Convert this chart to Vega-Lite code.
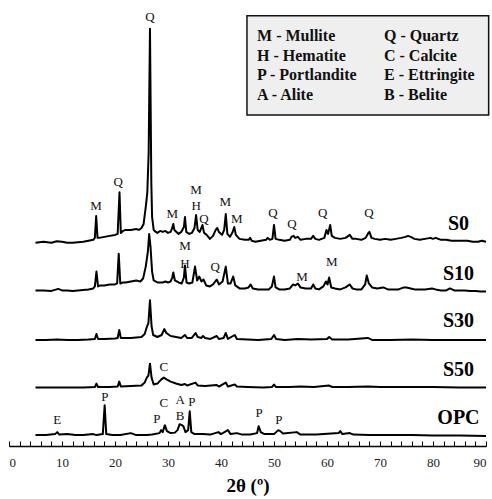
{
  "$schema": "https://vega.github.io/schema/vega-lite/v6.json",
  "width": 477,
  "height": 446,
  "autosize": {"type": "none"},
  "padding": {"left": 9, "top": 0, "right": 6, "bottom": 53},
  "background": "white",
  "config": {
    "view": {"stroke": null},
    "font": "Liberation Serif",
    "axis": {"labelFont": "Liberation Serif", "titleFont": "Liberation Serif", "labelFontSize": 13, "titleFontSize": 19, "titleFontWeight": "bold", "labelColor": "#222", "titleColor": "#000"}
  },
  "resolve": {"axis": {"x": "independent", "y": "independent"}},
  "layer": [
    {
      "data": {"values": [
      {"s":"S0","t":5.0,"i":205},{"s":"S0","t":6.5,"i":206},{"s":"S0","t":8,"i":205},{"s":"S0","t":9,"i":206.5},{"s":"S0","t":10,"i":206},{"s":"S0","t":11,"i":205},{"s":"S0","t":12,"i":205},{"s":"S0","t":13,"i":205.5},{"s":"S0","t":14,"i":206},{"s":"S0","t":15,"i":207},{"s":"S0","t":15.9,"i":208},{"s":"S0","t":16.2,"i":210},{"s":"S0","t":16.45,"i":232},{"s":"S0","t":16.7,"i":210},{"s":"S0","t":17,"i":210},{"s":"S0","t":18,"i":211},{"s":"S0","t":19,"i":212},{"s":"S0","t":20,"i":213},{"s":"S0","t":20.5,"i":214},{"s":"S0","t":20.85,"i":256},{"s":"S0","t":21.1,"i":215},{"s":"S0","t":21.5,"i":217},{"s":"S0","t":22,"i":218},{"s":"S0","t":23,"i":218},{"s":"S0","t":24,"i":219},{"s":"S0","t":24.5,"i":218},{"s":"S0","t":25,"i":220},{"s":"S0","t":25.4,"i":224},{"s":"S0","t":25.8,"i":241},{"s":"S0","t":26.1,"i":256},{"s":"S0","t":26.35,"i":296},{"s":"S0","t":26.6,"i":421},{"s":"S0","t":26.85,"i":266},{"s":"S0","t":27.0,"i":231},{"s":"S0","t":27.3,"i":218},{"s":"S0","t":27.7,"i":216},{"s":"S0","t":28,"i":215},{"s":"S0","t":28.5,"i":217},{"s":"S0","t":29,"i":216},{"s":"S0","t":29.5,"i":217},{"s":"S0","t":30,"i":215},{"s":"S0","t":30.5,"i":216},{"s":"S0","t":30.8,"i":220},{"s":"S0","t":31.0,"i":224},{"s":"S0","t":31.2,"i":218},{"s":"S0","t":31.6,"i":216},{"s":"S0","t":32,"i":214},{"s":"S0","t":32.5,"i":216},{"s":"S0","t":33.0,"i":221},{"s":"S0","t":33.2,"i":231},{"s":"S0","t":33.45,"i":216},{"s":"S0","t":34,"i":214},{"s":"S0","t":34.5,"i":215},{"s":"S0","t":35.0,"i":220},{"s":"S0","t":35.3,"i":233},{"s":"S0","t":35.6,"i":218},{"s":"S0","t":36,"i":216},{"s":"S0","t":36.5,"i":223},{"s":"S0","t":36.8,"i":215},{"s":"S0","t":37.3,"i":213},{"s":"S0","t":37.9,"i":209},{"s":"S0","t":38.5,"i":212},{"s":"S0","t":39.0,"i":218},{"s":"S0","t":39.3,"i":220},{"s":"S0","t":39.6,"i":216},{"s":"S0","t":40.2,"i":213},{"s":"S0","t":40.6,"i":218},{"s":"S0","t":40.9,"i":234},{"s":"S0","t":41.2,"i":214},{"s":"S0","t":41.7,"i":211},{"s":"S0","t":42.2,"i":216},{"s":"S0","t":42.5,"i":221},{"s":"S0","t":42.8,"i":213},{"s":"S0","t":43.5,"i":209},{"s":"S0","t":44.5,"i":208},{"s":"S0","t":45.2,"i":208},{"s":"S0","t":45.5,"i":210},{"s":"S0","t":45.8,"i":207},{"s":"S0","t":46.5,"i":206},{"s":"S0","t":47.5,"i":207},{"s":"S0","t":48.5,"i":208},{"s":"S0","t":48.8,"i":210},{"s":"S0","t":49.2,"i":208},{"s":"S0","t":49.7,"i":209},{"s":"S0","t":50.0,"i":223},{"s":"S0","t":50.3,"i":209},{"s":"S0","t":51,"i":208},{"s":"S0","t":52,"i":207},{"s":"S0","t":53,"i":208},{"s":"S0","t":53.3,"i":211},{"s":"S0","t":53.7,"i":212},{"s":"S0","t":54.0,"i":210},{"s":"S0","t":54.5,"i":211},{"s":"S0","t":55,"i":208},{"s":"S0","t":56,"i":209},{"s":"S0","t":57,"i":209},{"s":"S0","t":57.4,"i":212},{"s":"S0","t":57.8,"i":209},{"s":"S0","t":58.5,"i":208},{"s":"S0","t":59.5,"i":210},{"s":"S0","t":59.9,"i":218},{"s":"S0","t":60.2,"i":214},{"s":"S0","t":60.6,"i":223},{"s":"S0","t":60.9,"i":212},{"s":"S0","t":61.5,"i":210},{"s":"S0","t":62.5,"i":209},{"s":"S0","t":63.5,"i":210},{"s":"S0","t":64.3,"i":213},{"s":"S0","t":64.8,"i":209},{"s":"S0","t":65.5,"i":209},{"s":"S0","t":66.5,"i":208},{"s":"S0","t":67.3,"i":210},{"s":"S0","t":67.8,"i":215},{"s":"S0","t":68.0,"i":216},{"s":"S0","t":68.4,"i":210},{"s":"S0","t":69,"i":209},{"s":"S0","t":70,"i":208},{"s":"S0","t":71,"i":209},{"s":"S0","t":72,"i":208},{"s":"S0","t":73,"i":209},{"s":"S0","t":74,"i":210},{"s":"S0","t":74.8,"i":211},{"s":"S0","t":75.3,"i":212},{"s":"S0","t":75.8,"i":211},{"s":"S0","t":76.5,"i":209},{"s":"S0","t":77.5,"i":208},{"s":"S0","t":78.5,"i":209},{"s":"S0","t":79.5,"i":210},{"s":"S0","t":80,"i":209},{"s":"S0","t":80.5,"i":210},{"s":"S0","t":81.5,"i":208},{"s":"S0","t":82.5,"i":208},{"s":"S0","t":83.5,"i":207},{"s":"S0","t":84.5,"i":207},{"s":"S0","t":85.5,"i":207},{"s":"S0","t":86.5,"i":207},{"s":"S0","t":87.5,"i":206},{"s":"S0","t":88.5,"i":206},{"s":"S0","t":89.2,"i":207},{"s":"S0","t":90,"i":206},
      {"s":"S10","t":5,"i":157},{"s":"S10","t":6.5,"i":157},{"s":"S10","t":8,"i":156.5},{"s":"S10","t":9.3,"i":158.5},{"s":"S10","t":10,"i":157},{"s":"S10","t":11,"i":157},{"s":"S10","t":12,"i":156.5},{"s":"S10","t":13,"i":157},{"s":"S10","t":14,"i":157.5},{"s":"S10","t":15,"i":158},{"s":"S10","t":15.9,"i":159},{"s":"S10","t":16.2,"i":161},{"s":"S10","t":16.5,"i":176},{"s":"S10","t":16.8,"i":161},{"s":"S10","t":17.2,"i":162},{"s":"S10","t":18,"i":162},{"s":"S10","t":19,"i":163},{"s":"S10","t":20,"i":163},{"s":"S10","t":20.4,"i":164},{"s":"S10","t":20.7,"i":194},{"s":"S10","t":21.0,"i":164},{"s":"S10","t":21.5,"i":165},{"s":"S10","t":22,"i":165},{"s":"S10","t":23,"i":166},{"s":"S10","t":24,"i":167},{"s":"S10","t":24.8,"i":166},{"s":"S10","t":25.3,"i":169},{"s":"S10","t":25.8,"i":181},{"s":"S10","t":26.2,"i":196},{"s":"S10","t":26.45,"i":214},{"s":"S10","t":26.7,"i":201},{"s":"S10","t":27.0,"i":176},{"s":"S10","t":27.3,"i":167},{"s":"S10","t":28,"i":165},{"s":"S10","t":29,"i":165},{"s":"S10","t":29.5,"i":166},{"s":"S10","t":30,"i":165},{"s":"S10","t":30.5,"i":166},{"s":"S10","t":30.8,"i":170},{"s":"S10","t":31.0,"i":175},{"s":"S10","t":31.3,"i":167},{"s":"S10","t":32,"i":165},{"s":"S10","t":32.6,"i":164},{"s":"S10","t":33.0,"i":170},{"s":"S10","t":33.2,"i":182},{"s":"S10","t":33.5,"i":165},{"s":"S10","t":34,"i":164},{"s":"S10","t":34.6,"i":165},{"s":"S10","t":35.1,"i":181},{"s":"S10","t":35.5,"i":167},{"s":"S10","t":35.9,"i":171},{"s":"S10","t":36.3,"i":166},{"s":"S10","t":36.7,"i":168},{"s":"S10","t":37.2,"i":162},{"s":"S10","t":37.9,"i":161},{"s":"S10","t":38.5,"i":163},{"s":"S10","t":39.2,"i":168},{"s":"S10","t":39.6,"i":163},{"s":"S10","t":40.3,"i":166},{"s":"S10","t":40.9,"i":181},{"s":"S10","t":41.3,"i":164},{"s":"S10","t":41.8,"i":164},{"s":"S10","t":42.3,"i":171},{"s":"S10","t":42.7,"i":162},{"s":"S10","t":43.5,"i":159},{"s":"S10","t":44.5,"i":159},{"s":"S10","t":45.2,"i":160},{"s":"S10","t":45.6,"i":163},{"s":"S10","t":46,"i":159},{"s":"S10","t":47,"i":158},{"s":"S10","t":48,"i":158},{"s":"S10","t":49,"i":158},{"s":"S10","t":49.6,"i":161},{"s":"S10","t":50.0,"i":171},{"s":"S10","t":50.3,"i":160},{"s":"S10","t":51,"i":158},{"s":"S10","t":52,"i":158},{"s":"S10","t":53,"i":159},{"s":"S10","t":53.6,"i":163},{"s":"S10","t":54.0,"i":162},{"s":"S10","t":54.5,"i":164},{"s":"S10","t":55,"i":160},{"s":"S10","t":56,"i":159},{"s":"S10","t":57,"i":159},{"s":"S10","t":57.4,"i":163},{"s":"S10","t":57.8,"i":159},{"s":"S10","t":58.5,"i":158},{"s":"S10","t":59.3,"i":161},{"s":"S10","t":59.8,"i":166},{"s":"S10","t":60.1,"i":163},{"s":"S10","t":60.4,"i":170},{"s":"S10","t":60.8,"i":160},{"s":"S10","t":61.5,"i":159},{"s":"S10","t":62.5,"i":158},{"s":"S10","t":63.5,"i":160},{"s":"S10","t":64.3,"i":163},{"s":"S10","t":64.8,"i":159},{"s":"S10","t":65.5,"i":158},{"s":"S10","t":66.5,"i":158},{"s":"S10","t":67.2,"i":163},{"s":"S10","t":67.5,"i":172},{"s":"S10","t":67.9,"i":164},{"s":"S10","t":68.5,"i":160},{"s":"S10","t":69.5,"i":159},{"s":"S10","t":70.6,"i":160},{"s":"S10","t":71.5,"i":158},{"s":"S10","t":72.5,"i":158},{"s":"S10","t":73.5,"i":158},{"s":"S10","t":74.5,"i":160},{"s":"S10","t":75,"i":160},{"s":"S10","t":75.8,"i":159},{"s":"S10","t":76.5,"i":158},{"s":"S10","t":77.5,"i":158},{"s":"S10","t":78.5,"i":158},{"s":"S10","t":79.8,"i":159},{"s":"S10","t":80.5,"i":158},{"s":"S10","t":81.5,"i":157},{"s":"S10","t":82.5,"i":157},{"s":"S10","t":83.2,"i":159},{"s":"S10","t":84,"i":157},{"s":"S10","t":85,"i":157},{"s":"S10","t":86,"i":157},{"s":"S10","t":87,"i":156.5},{"s":"S10","t":88,"i":156.5},{"s":"S10","t":89,"i":156},{"s":"S10","t":90,"i":156},
      {"s":"S30","t":5,"i":107},{"s":"S30","t":7,"i":107},{"s":"S30","t":9,"i":107.5},{"s":"S30","t":11,"i":107},{"s":"S30","t":13,"i":107},{"s":"S30","t":15,"i":107.5},{"s":"S30","t":16.2,"i":108},{"s":"S30","t":16.5,"i":113},{"s":"S30","t":16.8,"i":108},{"s":"S30","t":18,"i":108},{"s":"S30","t":20,"i":108.5},{"s":"S30","t":20.5,"i":109},{"s":"S30","t":20.8,"i":117},{"s":"S30","t":21.1,"i":109},{"s":"S30","t":22,"i":109},{"s":"S30","t":23,"i":109},{"s":"S30","t":24,"i":109.5},{"s":"S30","t":25,"i":110},{"s":"S30","t":25.6,"i":113},{"s":"S30","t":26.0,"i":120},{"s":"S30","t":26.3,"i":124},{"s":"S30","t":26.6,"i":147},{"s":"S30","t":26.9,"i":121},{"s":"S30","t":27.2,"i":112},{"s":"S30","t":28,"i":110},{"s":"S30","t":28.8,"i":112},{"s":"S30","t":29.3,"i":118},{"s":"S30","t":29.7,"i":114},{"s":"S30","t":30.5,"i":111},{"s":"S30","t":31.5,"i":110},{"s":"S30","t":32.5,"i":109},{"s":"S30","t":33.2,"i":112},{"s":"S30","t":33.6,"i":109},{"s":"S30","t":34.5,"i":109},{"s":"S30","t":35.2,"i":114},{"s":"S30","t":35.6,"i":110},{"s":"S30","t":36.3,"i":109},{"s":"S30","t":36.6,"i":111},{"s":"S30","t":37,"i":109},{"s":"S30","t":38,"i":108},{"s":"S30","t":39.2,"i":111},{"s":"S30","t":39.6,"i":108},{"s":"S30","t":40.5,"i":109},{"s":"S30","t":40.9,"i":114},{"s":"S30","t":41.3,"i":108},{"s":"S30","t":42.6,"i":112},{"s":"S30","t":43,"i":108},{"s":"S30","t":45,"i":107.5},{"s":"S30","t":47,"i":107},{"s":"S30","t":49.5,"i":108},{"s":"S30","t":50,"i":112},{"s":"S30","t":50.4,"i":108},{"s":"S30","t":52,"i":107},{"s":"S30","t":54.5,"i":108},{"s":"S30","t":57,"i":107.5},{"s":"S30","t":60,"i":108},{"s":"S30","t":60.4,"i":110},{"s":"S30","t":61,"i":107.5},{"s":"S30","t":64,"i":107.5},{"s":"S30","t":67.7,"i":109},{"s":"S30","t":68.5,"i":107},{"s":"S30","t":72,"i":107},{"s":"S30","t":76,"i":107.5},{"s":"S30","t":80,"i":107},{"s":"S30","t":85,"i":107},{"s":"S30","t":90,"i":107},
      {"s":"S50","t":5,"i":59},{"s":"S50","t":8,"i":59},{"s":"S50","t":11,"i":59},{"s":"S50","t":14,"i":59},{"s":"S50","t":16.2,"i":59.5},{"s":"S50","t":16.5,"i":63},{"s":"S50","t":16.8,"i":59.5},{"s":"S50","t":19,"i":59.5},{"s":"S50","t":20.5,"i":60},{"s":"S50","t":20.8,"i":65},{"s":"S50","t":21.1,"i":60},{"s":"S50","t":23,"i":60.5},{"s":"S50","t":25,"i":61},{"s":"S50","t":25.6,"i":64},{"s":"S50","t":26.0,"i":69},{"s":"S50","t":26.3,"i":71},{"s":"S50","t":26.6,"i":83},{"s":"S50","t":26.9,"i":69},{"s":"S50","t":27.3,"i":62},{"s":"S50","t":28,"i":63},{"s":"S50","t":28.7,"i":67},{"s":"S50","t":29.2,"i":69},{"s":"S50","t":29.8,"i":67},{"s":"S50","t":30.5,"i":65},{"s":"S50","t":31.5,"i":63},{"s":"S50","t":32.5,"i":61.5},{"s":"S50","t":33.2,"i":62.5},{"s":"S50","t":33.6,"i":61},{"s":"S50","t":35.2,"i":64},{"s":"S50","t":35.6,"i":61},{"s":"S50","t":37,"i":60.5},{"s":"S50","t":39.2,"i":61.5},{"s":"S50","t":39.6,"i":60},{"s":"S50","t":40.9,"i":64},{"s":"S50","t":41.3,"i":60},{"s":"S50","t":42.6,"i":62},{"s":"S50","t":43,"i":60},{"s":"S50","t":45,"i":59.5},{"s":"S50","t":48,"i":59},{"s":"S50","t":49.6,"i":59.5},{"s":"S50","t":50,"i":62},{"s":"S50","t":50.4,"i":59.5},{"s":"S50","t":53,"i":59.5},{"s":"S50","t":55,"i":60},{"s":"S50","t":57.5,"i":59.5},{"s":"S50","t":60.4,"i":61},{"s":"S50","t":61,"i":59.5},{"s":"S50","t":64,"i":59.5},{"s":"S50","t":67.7,"i":60},{"s":"S50","t":70,"i":59.5},{"s":"S50","t":75,"i":59.5},{"s":"S50","t":80,"i":59.5},{"s":"S50","t":85,"i":59},{"s":"S50","t":90,"i":59},
      {"s":"OPC","t":5,"i":11},{"s":"OPC","t":7,"i":11},{"s":"OPC","t":8.7,"i":12},{"s":"OPC","t":9.1,"i":14},{"s":"OPC","t":9.5,"i":11.5},{"s":"OPC","t":11,"i":12},{"s":"OPC","t":12.5,"i":11},{"s":"OPC","t":14,"i":11},{"s":"OPC","t":15.9,"i":12},{"s":"OPC","t":16.5,"i":11},{"s":"OPC","t":17.7,"i":12},{"s":"OPC","t":18.05,"i":41},{"s":"OPC","t":18.35,"i":12},{"s":"OPC","t":19.5,"i":11},{"s":"OPC","t":21,"i":11},{"s":"OPC","t":23,"i":13},{"s":"OPC","t":24,"i":11},{"s":"OPC","t":26,"i":11},{"s":"OPC","t":27,"i":11.5},{"s":"OPC","t":28.4,"i":13},{"s":"OPC","t":28.7,"i":16},{"s":"OPC","t":29.0,"i":14},{"s":"OPC","t":29.4,"i":21},{"s":"OPC","t":29.8,"i":15},{"s":"OPC","t":30.5,"i":13},{"s":"OPC","t":31.3,"i":13.5},{"s":"OPC","t":31.8,"i":16},{"s":"OPC","t":32.2,"i":22},{"s":"OPC","t":32.6,"i":21},{"s":"OPC","t":32.9,"i":20},{"s":"OPC","t":33.3,"i":14},{"s":"OPC","t":33.8,"i":16},{"s":"OPC","t":34.1,"i":35},{"s":"OPC","t":34.4,"i":14},{"s":"OPC","t":35,"i":12},{"s":"OPC","t":36.5,"i":12},{"s":"OPC","t":38,"i":11.5},{"s":"OPC","t":39.5,"i":14},{"s":"OPC","t":40,"i":12},{"s":"OPC","t":41.3,"i":16},{"s":"OPC","t":41.8,"i":12},{"s":"OPC","t":43,"i":13},{"s":"OPC","t":44,"i":11.5},{"s":"OPC","t":45.5,"i":11.5},{"s":"OPC","t":46.8,"i":13},{"s":"OPC","t":47.1,"i":20},{"s":"OPC","t":47.5,"i":14},{"s":"OPC","t":48.2,"i":12},{"s":"OPC","t":50,"i":12},{"s":"OPC","t":50.8,"i":16},{"s":"OPC","t":51.2,"i":15},{"s":"OPC","t":51.7,"i":12.5},{"s":"OPC","t":54.3,"i":14},{"s":"OPC","t":55,"i":11.5},{"s":"OPC","t":58,"i":11.5},{"s":"OPC","t":62.2,"i":13},{"s":"OPC","t":62.5,"i":15},{"s":"OPC","t":62.9,"i":12},{"s":"OPC","t":64.3,"i":13},{"s":"OPC","t":65,"i":11.5},{"s":"OPC","t":68,"i":11},{"s":"OPC","t":72,"i":11},{"s":"OPC","t":76,"i":11},{"s":"OPC","t":80,"i":10.5},{"s":"OPC","t":85,"i":10.5},{"s":"OPC","t":90,"i":10}
      ]},
      "mark": {"type": "line", "color": "black", "strokeWidth": 2, "strokeJoin": "round"},
      "encoding": {
        "x": {
          "field": "t", "type": "quantitative",
          "scale": {"domain": [0, 90], "nice": false},
          "axis": {
            "title": "2θ (º)",
            "titleFont": "Liberation Serif", "titleFontSize": 19, "titleFontWeight": "bold", "titleColor": "#000", "titlePadding": 7,
            "values": [0,2,4,6,8,10,12,14,16,18,20,22,24,26,28,30,32,34,36,38,40,42,44,46,48,50,52,54,56,58,60,62,64,66,68,70,72,74,76,78,80,82,84,86,88,90],
            "labelExpr": "datum.value % 10 === 0 ? datum.label : ''",
            "labelOverlap": false,
            "labelFont": "Liberation Serif", "labelFontSize": 13, "labelColor": "#222",
            "labelPadding": 15,
            "tickSize": -5,
            "tickColor": "#000", "tickWidth": 1,
            "domainColor": "#000", "domainWidth": 1.5,
            "grid": false
          }
        },
        "y": {"field": "i", "type": "quantitative", "scale": {"domain": [0, 446]}, "axis": null},
        "detail": {"field": "s", "type": "nominal"}
      }
    },
    {
      "data": {"values": [{"t1":44.9,"t2":90.5,"i1":334,"i2":434}]},
      "mark": {"type": "rect", "fill": "#efefef", "stroke": "#111", "strokeWidth": 1.5},
      "encoding": {
        "x": {"field": "t1", "type": "quantitative", "axis": null},
        "x2": {"field": "t2"},
        "y": {"field": "i1", "type": "quantitative", "axis": null},
        "y2": {"field": "i2"}
      }
    },
    {
      "data": {"values": [
        {"txt":"M - Mullite","t":46.8,"i":414},{"txt":"H - Hematite","t":46.8,"i":394},{"txt":"P - Portlandite","t":46.8,"i":374},{"txt":"A - Alite","t":46.8,"i":354},
        {"txt":"Q - Quartz","t":70.75,"i":414},{"txt":"C - Calcite","t":70.75,"i":394},{"txt":"E - Ettringite","t":70.75,"i":374},{"txt":"B - Belite","t":70.75,"i":354}
      ]},
      "mark": {"type": "text", "align": "left", "baseline": "middle", "font": "Liberation Serif", "fontWeight": "bold", "fontSize": 16, "color": "#111"},
      "encoding": {
        "x": {"field": "t", "type": "quantitative", "axis": null},
        "y": {"field": "i", "type": "quantitative", "axis": null},
        "text": {"field": "txt", "type": "nominal"}
      }
    },
    {
      "data": {"values": [
        {"p":"Q","t":26.6,"i":433},{"p":"M","t":16.4,"i":242},{"p":"Q","t":20.6,"i":266},{"p":"M","t":30.8,"i":234},{"p":"M","t":35.3,"i":258},{"p":"H","t":35.3,"i":242},{"p":"Q","t":36.8,"i":229},{"p":"M","t":40.8,"i":246},{"p":"M","t":43.0,"i":229},{"p":"Q","t":49.8,"i":235},{"p":"Q","t":53.4,"i":224},{"p":"Q","t":59.2,"i":235},{"p":"Q","t":67.9,"i":235},
        {"p":"M","t":33.2,"i":202},{"p":"H","t":33.2,"i":184},{"p":"Q","t":38.9,"i":181},{"p":"M","t":55.3,"i":171},{"p":"M","t":60.9,"i":186},
        {"p":"C","t":29.2,"i":80},
        {"p":"P","t":18.1,"i":49},{"p":"E","t":9.1,"i":26},{"p":"P","t":27.9,"i":27},{"p":"C","t":29.2,"i":43},{"p":"A","t":32.3,"i":46},{"p":"B","t":32.3,"i":30},{"p":"P","t":34.5,"i":44},{"p":"P","t":47.2,"i":33},{"p":"P","t":50.9,"i":26}
      ]},
      "mark": {"type": "text", "align": "center", "baseline": "middle", "font": "Liberation Serif", "fontSize": 13, "color": "#111"},
      "encoding": {
        "x": {"field": "t", "type": "quantitative", "axis": null},
        "y": {"field": "i", "type": "quantitative", "axis": null},
        "text": {"field": "p", "type": "nominal"}
      }
    },
    {
      "data": {"values": [
        {"name":"S0","t":84.8,"i":224},{"name":"S10","t":84.8,"i":174},{"name":"S30","t":84.8,"i":126},{"name":"S50","t":84.8,"i":77},{"name":"OPC","t":84.8,"i":28}
      ]},
      "mark": {"type": "text", "align": "center", "baseline": "middle", "font": "Liberation Serif", "fontWeight": "bold", "fontSize": 20, "color": "#000"},
      "encoding": {
        "x": {"field": "t", "type": "quantitative", "axis": null},
        "y": {"field": "i", "type": "quantitative", "axis": null},
        "text": {"field": "name", "type": "nominal"}
      }
    }
  ]
}
